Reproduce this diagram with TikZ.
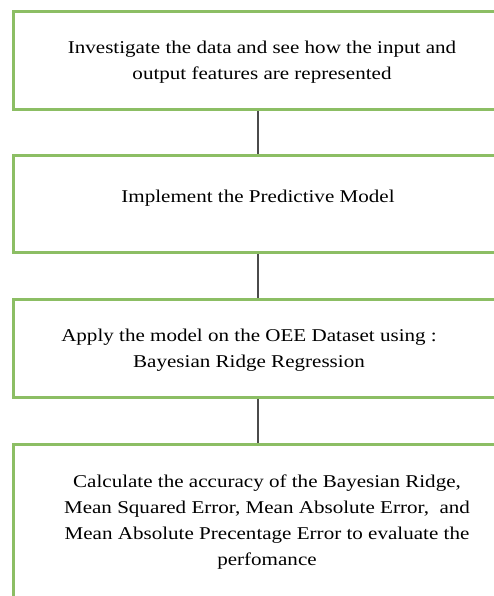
\documentclass[tikz,border=0pt]{standalone}
\usepackage{fontspec}
\setmainfont{Liberation Serif}[FakeStretch=1.17]
\definecolor{boxgreen}{RGB}{140,190,100}
\definecolor{linegray}{RGB}{75,75,75}
\tikzset{
  stepbox/.style={draw=boxgreen, line width=3pt, rectangle, inner sep=0pt, anchor=north west},
  steptext/.style={align=center, font=\fontsize{18}{26.2}\selectfont, inner sep=0pt, text=black},
  conn/.style={draw=linegray, line width=1.8pt}
}
\begin{document}
\begin{tikzpicture}[x=1pt,y=1pt]
\useasboundingbox (0,0) rectangle (494,-596);
\clip (0,0) rectangle (494,-596);
\node[stepbox, minimum width=520pt, minimum height=97.5pt] (b1) at (11.5,-10.5) {};
\node[stepbox, minimum width=520pt, minimum height=97pt] (b2) at (11.5,-154) {};
\node[stepbox, minimum width=520pt, minimum height=97.8pt] (b3) at (11.5,-297.7) {};
\node[stepbox, minimum width=520pt, minimum height=170pt] (b4) at (11.5,-443.3) {};
\node[steptext] (t1) at (262,-62) {Investigate the data and see how the input and\\output features are represented};
\node[steptext] (t2) at (258,-198) {Implement the Predictive Model};
\node[steptext] (t3) at (249,-350.5) {Apply the model on the OEE Dataset using :\\Bayesian Ridge Regression};
\node[steptext] (t4) at (267,-522) {Calculate the accuracy of the Bayesian Ridge,\\Mean Squared Error, Mean Absolute Error,\ \ and\\Mean Absolute Precentage Error to evaluate the\\perfomance};
\coordinate (cx) at (258,0);
\draw[conn] (b1.south -| cx) -- (b2.north -| cx);
\draw[conn] (b2.south -| cx) -- (b3.north -| cx);
\draw[conn] (b3.south -| cx) -- (b4.north -| cx);
\end{tikzpicture}
\end{document}
